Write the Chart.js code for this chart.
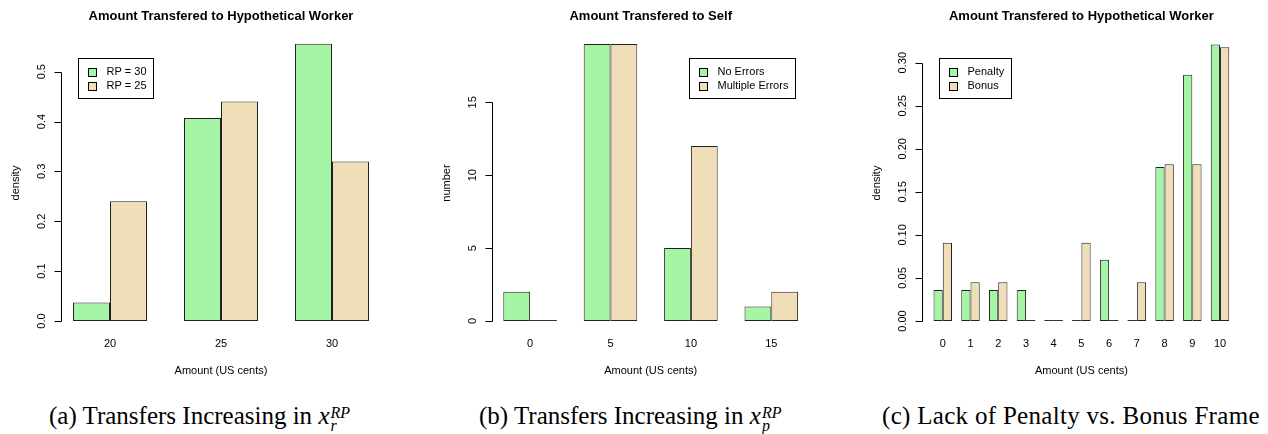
<!DOCTYPE html>
<html>
<head>
<meta charset="utf-8">
<script src="https://cdn.jsdelivr.net/npm/chart.js@4.4.1/dist/chart.umd.min.js"></script>
<style>
  body { margin: 0; background: #fff; width: 1268px; height: 434px; position: relative; overflow: hidden; }
  canvas { position: absolute; top: 0; }
  .cap { position: absolute; top: 403px; font-family: "Liberation Serif", "Times New Roman", serif; font-size: 25px; line-height: 25px; white-space: nowrap; color: #000; }
  .ss { display: inline-flex; flex-direction: column; font-size: 16px; line-height: 13px; vertical-align: 6px; margin-left: 1px; }
</style>
</head>
<body>
<canvas id="c1" width="420" height="390" style="left:0px"></canvas>
<canvas id="c2" width="420" height="390" style="left:420px"></canvas>
<canvas id="c3" width="428" height="390" style="left:840px"></canvas>

<div class="cap" style="left:49px">(a) Transfers Increasing in <i>x</i><span class="ss"><i>RP</i><i>r</i></span></div>
<div class="cap" style="left:479px">(b) Transfers Increasing in <i>x</i><span class="ss"><i>RP</i><i>p</i></span></div>
<div class="cap" style="left:882px; letter-spacing:0.3px">(c) Lack of Penalty vs. Bonus Frame</div>

<script>
// panel (a)
const amounts1 = ['20', '25', '30'];
const rp30 = [0.037, 0.407, 0.556];
const rp25 = [0.24, 0.44, 0.32];
const yTicks1 = [0, 0.1, 0.2, 0.3, 0.4, 0.5];
const yLabels1 = ['0.0', '0.1', '0.2', '0.3', '0.4', '0.5'];

// panel (b)
const amounts2 = ['0', '5', '10', '15'];
const noErrors = [2, 19, 5, 1];
const multiErrors = [0, 19, 12, 2];
const yTicks2 = [0, 5, 10, 15];
const yLabels2 = ['0', '5', '10', '15'];

// panel (c)
const amounts3 = ['0', '1', '2', '3', '4', '5', '6', '7', '8', '9', '10'];
const penalty = [0.036, 0.036, 0.036, 0.036, 0, 0, 0.071, 0, 0.179, 0.286, 0.321];
const bonus = [0.091, 0.045, 0.045, 0, 0, 0.091, 0, 0.045, 0.182, 0.182, 0.318];
const yTicks3 = [0, 0.05, 0.10, 0.15, 0.20, 0.25, 0.30];
const yLabels3 = ['0.00', '0.05', '0.10', '0.15', '0.20', '0.25', '0.30'];

const GREEN = '#a6f5a6';
const WHEAT = '#f0deb8';
const FONT = '"Liberation Sans", Arial, Helvetica, sans-serif';

// draws the R-style axes, labels, title and legend around the bars
const rStyle = {
  id: 'rStyle',
  afterDraw(chart, args, o) {
    const { ctx, chartArea: a, scales: { x, y } } = chart;
    const n = chart.data.labels.length;
    const u = a.width / (3 * n);
    const gap = (0.5 - 0.04 * (3 * n - 1)) * u;
    const ax = Math.round(a.left + gap) + 0.5;
    const cx = (a.left + a.right) / 2;
    const y0 = y.getPixelForValue(0);

    ctx.save();
    ctx.strokeStyle = '#000';
    ctx.fillStyle = '#000';
    ctx.lineWidth = 1;

    // zero-height bars show as a flat line
    chart.data.datasets.forEach((ds, di) => {
      chart.getDatasetMeta(di).data.forEach((el, i) => {
        if (ds.data[i] === 0) {
          ctx.strokeStyle = '#333';
          ctx.beginPath();
          ctx.moveTo(el.x - el.width / 2, Math.round(el.y) - 0.5);
          ctx.lineTo(el.x + el.width / 2, Math.round(el.y) - 0.5);
          ctx.stroke();
        }
      });
    });
    ctx.strokeStyle = '#000';

    // y axis
    const t = o.ticks;
    const yb = Math.round(y.getPixelForValue(t[0])) + 0.5;
    const yt = Math.round(y.getPixelForValue(t[t.length - 1])) + 0.5;
    ctx.beginPath();
    ctx.moveTo(ax, yb);
    ctx.lineTo(ax, yt);
    t.forEach(v => {
      const py = Math.round(y.getPixelForValue(v)) + 0.5;
      ctx.moveTo(ax, py);
      ctx.lineTo(ax - 7, py);
    });
    ctx.stroke();

    ctx.font = '11px ' + FONT;
    ctx.textAlign = 'center';
    ctx.textBaseline = 'middle';
    t.forEach((v, i) => {
      const py = y.getPixelForValue(v);
      ctx.save();
      ctx.translate(ax - 20, py);
      ctx.rotate(-Math.PI / 2);
      ctx.fillText(o.labels[i], 0, 0);
      ctx.restore();
    });

    // y title
    ctx.save();
    ctx.translate(ax - 46, 183);
    ctx.rotate(-Math.PI / 2);
    ctx.fillText(o.yTitle, 0, 0);
    ctx.restore();

    // category labels
    chart.data.labels.forEach((lab, i) => {
      ctx.fillText(lab, x.getPixelForValue(i), y0 + 23);
    });
    ctx.fillText('Amount (US cents)', cx, y0 + 50);

    // title
    ctx.font = 'bold 13px ' + FONT;
    ctx.fillText(o.title, cx, 16);

    // legend
    ctx.font = '11px ' + FONT;
    const sets = chart.data.datasets;
    const tw = Math.max(...sets.map(s => ctx.measureText(s.label).width));
    const bw = 28 + tw + 7;
    const bh = 40;
    const ax2 = a.right - gap;
    const bx = o.legendSide === 'left' ? Math.round(ax + 16) + 0.5 : Math.round(ax2 - 15 - bw) + 0.5;
    const by = 58.5;
    ctx.strokeRect(bx, by, Math.round(bw), bh);
    ctx.textAlign = 'left';
    sets.forEach((s, i) => {
      const ry = by + 13.5 + i * 14;
      ctx.fillStyle = s.backgroundColor;
      ctx.fillRect(bx + 10, Math.round(ry - 4) + 0.5, 8, 8);
      ctx.strokeRect(bx + 10, Math.round(ry - 4) + 0.5, 8, 8);
      ctx.fillStyle = '#000';
      ctx.fillText(s.label, bx + 28, ry);
    });
    ctx.restore();
  }
};

function makeChart(id, labels, a, b, names, yMax, pad, opts) {
  return new Chart(document.getElementById(id), {
    type: 'bar',
    data: {
      labels: labels,
      datasets: [
        { label: names[0], data: a, backgroundColor: GREEN, borderColor: '#222', borderWidth: 1, borderSkipped: false },
        { label: names[1], data: b, backgroundColor: WHEAT, borderColor: '#222', borderWidth: 1, borderSkipped: false }
      ]
    },
    options: {
      responsive: false,
      animation: false,
      layout: { padding: pad },
      datasets: { bar: { barPercentage: 1, categoryPercentage: 2 / 3 } },
      plugins: {
        legend: { display: false },
        tooltip: { enabled: false },
        rStyle: opts
      },
      scales: {
        x: { display: false, offset: true },
        y: { display: false, min: 0, max: yMax }
      }
    },
    plugins: [rStyle]
  });
}

makeChart('c1', amounts1, rp30, rp25, ['RP = 30', 'RP = 25'], 0.6,
  { left: 54.5, right: 32.5, top: 21.8, bottom: 69 },
  { ticks: yTicks1, labels: yLabels1, yTitle: 'density', title: 'Amount Transfered to Hypothetical Worker', legendSide: 'left' });

makeChart('c2', amounts2, noErrors, multiErrors, ['No Errors', 'Multiple Errors'], 20,
  { left: 69.9, right: 28.5, top: 29.4, bottom: 69 },
  { ticks: yTicks2, labels: yLabels2, yTitle: 'number', title: 'Amount Transfered to Self', legendSide: 'right' });

makeChart('c3', amounts3, penalty, bonus, ['Penalty', 'Bonus'], 0.35,
  { left: 88.9, right: 34.1, top: 19.65, bottom: 69 },
  { ticks: yTicks3, labels: yLabels3, yTitle: 'density', title: 'Amount Transfered to Hypothetical Worker', legendSide: 'left' });
</script>
</body>
</html>
